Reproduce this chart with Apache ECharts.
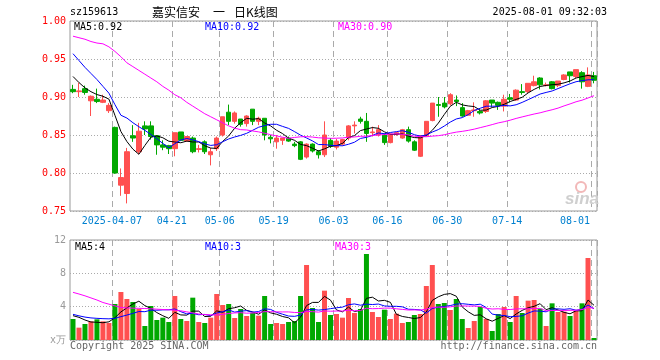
<!DOCTYPE html>
<html><head><meta charset="utf-8">
<script src="https://cdn.jsdelivr.net/npm/echarts@6/dist/echarts.min.js"></script>
<style>html,body{margin:0;padding:0;background:#fff}#c{width:660px;height:360px}</style>
</head><body><div id="c"></div>
<script>
// ---- data ----
const dates = [
 '2025-03-26','2025-03-27','2025-03-28','2025-03-31','2025-04-01','2025-04-02','2025-04-03',
 '2025-04-07','2025-04-08','2025-04-09','2025-04-10','2025-04-11',
 '2025-04-14','2025-04-15','2025-04-16','2025-04-17','2025-04-18',
 '2025-04-21','2025-04-22','2025-04-23','2025-04-24','2025-04-25',
 '2025-04-28','2025-04-29','2025-04-30',
 '2025-05-06','2025-05-07','2025-05-08','2025-05-09',
 '2025-05-12','2025-05-13','2025-05-14','2025-05-15','2025-05-16',
 '2025-05-19','2025-05-20','2025-05-21','2025-05-22','2025-05-23',
 '2025-05-26','2025-05-27','2025-05-28','2025-05-29','2025-05-30',
 '2025-06-03','2025-06-04','2025-06-05','2025-06-06',
 '2025-06-09','2025-06-10','2025-06-11','2025-06-12','2025-06-13',
 '2025-06-16','2025-06-17','2025-06-18','2025-06-19','2025-06-20',
 '2025-06-23','2025-06-24','2025-06-25','2025-06-26','2025-06-27',
 '2025-06-30','2025-07-01','2025-07-02','2025-07-03','2025-07-04',
 '2025-07-07','2025-07-08','2025-07-09','2025-07-10','2025-07-11',
 '2025-07-14','2025-07-15','2025-07-16','2025-07-17','2025-07-18',
 '2025-07-21','2025-07-22','2025-07-23','2025-07-24','2025-07-25',
 '2025-07-28','2025-07-29','2025-07-30','2025-07-31','2025-08-01'
];
const opens = [0.910,0.907,0.911,0.895,0.897,0.893,0.882,0.860,0.784,0.773,
 0.849,0.828,0.862,0.862,0.849,0.837,0.836,0.832,0.854,0.842,
 0.846,0.831,0.841,0.824,0.832,0.850,0.880,0.868,0.871,0.865,
 0.884,0.868,0.872,0.847,0.841,0.843,0.846,0.838,0.841,0.821,
 0.838,0.828,0.824,0.843,0.834,0.838,0.846,0.862,0.871,0.868,
 0.853,0.850,0.850,0.840,0.851,0.846,0.857,0.841,0.822,0.849,
 0.869,0.890,0.892,0.891,0.896,0.886,0.876,0.882,0.881,0.881,
 0.896,0.893,0.888,0.899,0.896,0.907,0.907,0.915,0.925,0.915,
 0.920,0.915,0.923,0.933,0.927,0.932,0.914,0.928];
const closes = [0.907,0.908,0.906,0.901,0.894,0.896,0.889,0.800,0.794,0.828,
 0.846,0.855,0.858,0.848,0.837,0.834,0.832,0.853,0.843,0.848,
 0.828,0.832,0.828,0.828,0.846,0.874,0.868,0.879,0.864,0.875,
 0.868,0.872,0.850,0.845,0.846,0.846,0.842,0.836,0.818,0.838,
 0.829,0.824,0.850,0.835,0.842,0.844,0.862,0.863,0.868,0.852,
 0.854,0.857,0.840,0.851,0.853,0.857,0.842,0.830,0.849,0.868,
 0.892,0.889,0.887,0.903,0.894,0.875,0.882,0.883,0.879,0.895,
 0.892,0.889,0.897,0.897,0.909,0.906,0.918,0.920,0.916,0.916,
 0.911,0.921,0.929,0.928,0.936,0.920,0.929,0.922];
const lows = [0.905,0.900,0.903,0.875,0.892,0.892,0.879,0.799,0.770,0.760,
 0.841,0.825,0.850,0.844,0.824,0.830,0.825,0.822,0.842,0.841,
 0.826,0.827,0.825,0.810,0.829,0.848,0.863,0.865,0.861,0.861,
 0.863,0.863,0.843,0.839,0.832,0.837,0.841,0.834,0.817,0.819,
 0.827,0.819,0.821,0.833,0.831,0.836,0.843,0.852,0.865,0.841,
 0.848,0.848,0.837,0.839,0.849,0.845,0.840,0.829,0.821,0.848,
 0.868,0.874,0.885,0.889,0.888,0.874,0.875,0.874,0.877,0.879,
 0.887,0.883,0.881,0.893,0.895,0.903,0.905,0.914,0.910,0.914,
 0.910,0.913,0.922,0.919,0.925,0.911,0.913,0.918];
const highs = [0.916,0.919,0.915,0.902,0.911,0.903,0.892,0.861,0.806,0.833,
 0.863,0.866,0.868,0.868,0.850,0.843,0.837,0.853,0.854,0.848,
 0.848,0.837,0.843,0.833,0.848,0.874,0.890,0.881,0.871,0.876,
 0.884,0.874,0.872,0.850,0.850,0.846,0.848,0.841,0.842,0.839,
 0.839,0.830,0.868,0.846,0.845,0.845,0.863,0.868,0.874,0.879,
 0.861,0.863,0.852,0.852,0.854,0.858,0.861,0.843,0.850,0.868,
 0.892,0.900,0.900,0.905,0.902,0.892,0.883,0.893,0.883,0.896,
 0.896,0.894,0.903,0.904,0.910,0.917,0.918,0.928,0.926,0.919,
 0.921,0.921,0.930,0.933,0.936,0.934,0.939,0.933];
const volumes = [2.52,1.48,1.92,2.24,2.48,2.24,2.04,4.32,5.76,4.92,
 4.56,3.72,1.68,4.08,2.40,2.68,2.16,5.28,2.52,2.28,
 5.08,2.16,2.04,2.68,5.52,4.20,4.32,2.64,3.72,2.88,
 3.28,2.92,5.28,1.92,2.04,1.92,2.16,2.28,5.28,9.00,
 3.84,2.16,5.92,3.00,3.12,2.68,5.04,3.24,3.72,10.32,
 3.36,2.76,3.64,2.52,3.16,2.04,2.16,3.00,3.12,6.48,
 9.00,4.32,4.44,3.60,4.92,2.52,1.44,2.28,3.96,2.52,
 1.08,3.12,3.96,2.16,5.28,3.24,4.72,4.80,3.76,1.68,
 4.40,3.36,3.40,2.88,3.48,4.40,9.84,0.24];
// moving-average values at the left edge (window starts before the visible data)
const ma5Lead = [0.927,0.919,0.912,0.907];
const ma10Lead = [0.957,0.948,0.939,0.931,0.923,0.914,0.905,0.890,0.876];
const ma30Lead = [0.980,0.978,0.976,0.973,0.971,0.970,0.966,0.960,0.953,0.945,
 0.940,0.935,0.930,0.925,0.920,0.914,0.909,0.903,0.899,0.893,
 0.888,0.883,0.878,0.874,0.870,0.866,0.862,0.859,0.857];
const vma5Lead = [2.92,2.72,2.40,2.16];
const vma10Lead = [3.08,2.90,2.75,2.65,2.60,2.56,2.54,2.60,2.80];
const vma30Lead = [5.72,5.52,5.30,5.05,4.80,4.50,4.30,4.10,3.90,3.85,
 3.82,3.80,3.78,3.75,3.70,3.66,3.62,3.58,3.50,3.38,
 3.25,3.12,3.05,3.02,3.00,3.08,3.18,3.25,3.28];
const tickDates = ['2025-04-07','2025-04-21','2025-05-06','2025-05-19','2025-06-03','2025-06-16','2025-06-30','2025-07-14','2025-08-01'];
const code = 'sz159613';
const titleName = '嘉实信安';
const titleDash = '一';
const titleKind = '日K线图';
const stamp = '2025-08-01 09:32:03';

// ---- build ----
function ma(arr, n, lead) {
  return arr.map(function (_, i) {
    if (i < n - 1) return lead[i];
    let s = 0;
    for (let k = i - n + 1; k <= i; k++) s += arr[k];
    return +(s / n).toFixed(4);
  });
}
const ma5 = ma(closes, 5, ma5Lead), ma10 = ma(closes, 10, ma10Lead), ma30 = ma(closes, 30, ma30Lead);
const vma5 = ma(volumes, 5, vma5Lead), vma10 = ma(volumes, 10, vma10Lead), vma30 = ma(volumes, 30, vma30Lead);
const floor2 = v => (Math.floor(v * 100 + 1e-9) / 100).toFixed(2);
const last = a => a[a.length - 1];

const RED = '#ff5050', GREEN = '#00a800';
const MONO = '"DejaVu Sans Mono","Liberation Mono",monospace';
const CJK = '"Noto Sans CJK SC","Noto Sans",sans-serif';
const candleData = dates.map((d, i) => [opens[i], closes[i], lows[i], highs[i]]);
const volData = volumes.map((v, i) => ({ value: v, itemStyle: { color: closes[i] >= opens[i] ? RED : GREEN } }));
const isTick = i => tickDates.indexOf(dates[i]) >= 0;
const splitV = { show: true, interval: (i) => isTick(i), lineStyle: { color: '#aaa', width: 1, type: [6, 4] } };

const chart = echarts.init(document.getElementById('c'), null, { renderer: 'canvas' });
function txt(x, y, text, fill, font, align) {
  return { type: 'text', x: x, y: y, silent: true, z: 50,
    style: { text: text, fill: fill, font: font, textAlign: align || 'left', textVerticalAlign: 'middle' } };
}
const option = {
  animation: false,
  backgroundColor: '#fff',
  grid: [
    { left: 70, top: 21, width: 527, height: 190, show: true, borderColor: '#999', borderWidth: 1 },
    { left: 70, top: 240, width: 527, height: 100, show: true, borderColor: '#999', borderWidth: 1 }
  ],
  xAxis: [
    { type: 'category', gridIndex: 0, data: dates, boundaryGap: true,
      axisLine: { show: false }, axisTick: { show: false },
      axisLabel: { interval: (i) => isTick(i), margin: 5,
        formatter: function (v) {
          if (v === tickDates[0]) return '{a|' + v + '}';
          if (v === tickDates[tickDates.length - 1]) return '{b|' + v.slice(5) + '}';
          return '{a|' + v.slice(5) + '}';
        },
        rich: {
          a: { color: '#0080d0', fontFamily: MONO, fontSize: 10, padding: [0, 6, 0, 0] },
          b: { color: '#0080d0', fontFamily: MONO, fontSize: 10, padding: [0, 38, 0, 0] }
        } },
      splitLine: splitV },
    { type: 'category', gridIndex: 1, data: dates, boundaryGap: true,
      axisLine: { show: false }, axisTick: { show: false }, axisLabel: { show: false },
      splitLine: splitV }
  ],
  yAxis: [
    { type: 'value', gridIndex: 0, min: 0.75, max: 1.0, interval: 0.05, scale: true,
      axisLine: { show: false }, axisTick: { show: false },
      axisLabel: { color: '#ff0000', fontFamily: MONO, fontSize: 10, margin: 4, formatter: v => v.toFixed(2) },
      splitLine: { show: true, lineStyle: { color: '#aaa', type: [1, 2] } } },
    { type: 'value', gridIndex: 1, min: 0, max: 12, interval: 4,
      axisLine: { show: false }, axisTick: { show: false },
      axisLabel: { color: '#999', fontFamily: MONO, fontSize: 10, margin: 4,
        formatter: v => v === 0 ? 'x万' : String(v) },
      splitLine: { show: true, lineStyle: { color: '#aaa', type: [1, 2] } } }
  ],
  series: [
    { type: 'candlestick', xAxisIndex: 0, yAxisIndex: 0, data: candleData, barWidth: 5,
      itemStyle: { color: RED, color0: GREEN, borderColor: RED, borderColor0: GREEN, borderWidth: 1 } },
    { type: 'line', xAxisIndex: 0, yAxisIndex: 0, data: ma5, symbol: 'none', lineStyle: { color: '#000', width: 1 }, z: 5 },
    { type: 'line', xAxisIndex: 0, yAxisIndex: 0, data: ma10, symbol: 'none', lineStyle: { color: '#0000ff', width: 1 }, z: 5 },
    { type: 'line', xAxisIndex: 0, yAxisIndex: 0, data: ma30, symbol: 'none', lineStyle: { color: '#ff00ff', width: 1 }, z: 5 },
    { type: 'bar', xAxisIndex: 1, yAxisIndex: 1, data: volData, barWidth: 5 },
    { type: 'line', xAxisIndex: 1, yAxisIndex: 1, data: vma5, symbol: 'none', lineStyle: { color: '#000', width: 1 }, z: 5 },
    { type: 'line', xAxisIndex: 1, yAxisIndex: 1, data: vma10, symbol: 'none', lineStyle: { color: '#0000ff', width: 1 }, z: 5 },
    { type: 'line', xAxisIndex: 1, yAxisIndex: 1, data: vma30, symbol: 'none', lineStyle: { color: '#ff00ff', width: 1 }, z: 5 }
  ],
  graphic: [
    txt(70, 12, code, '#000', '10px ' + MONO),
    txt(152, 12, titleName, '#000', '12px ' + CJK),
    txt(213, 12, titleDash, '#000', '12px ' + CJK),
    txt(234, 12, titleKind, '#000', '12px ' + CJK),
    txt(607, 12, stamp, '#000', '10px ' + MONO, 'right'),
    txt(74, 27, 'MA5:' + floor2(last(ma5)), '#000', '10px ' + MONO),
    txt(205, 27, 'MA10:' + floor2(last(ma10)), '#0000ff', '10px ' + MONO),
    txt(338, 27, 'MA30:' + floor2(last(ma30)), '#ff00ff', '10px ' + MONO),
    txt(75, 247, 'MA5:' + Math.floor(last(vma5)), '#000', '10px ' + MONO),
    txt(205, 247, 'MA10:' + Math.floor(last(vma10)), '#0000ff', '10px ' + MONO),
    txt(335, 247, 'MA30:' + Math.floor(last(vma30)), '#ff00ff', '10px ' + MONO),
    txt(70, 346, 'Copyright 2025 SINA.COM', '#666', '10px ' + MONO),
    txt(597, 346, 'http://finance.sina.com.cn', '#666', '10px ' + MONO, 'right'),
    { type: 'circle', shape: { cx: 581, cy: 187, r: 5 }, silent: true, z: 1,
      style: { fill: 'none', stroke: '#f2b8b8', lineWidth: 2 } },
    txt(565, 199, 'sina', '#cfcfcf', 'italic bold 17px "Liberation Sans",sans-serif')
  ]
};
chart.setOption(option);
</script></body></html>
